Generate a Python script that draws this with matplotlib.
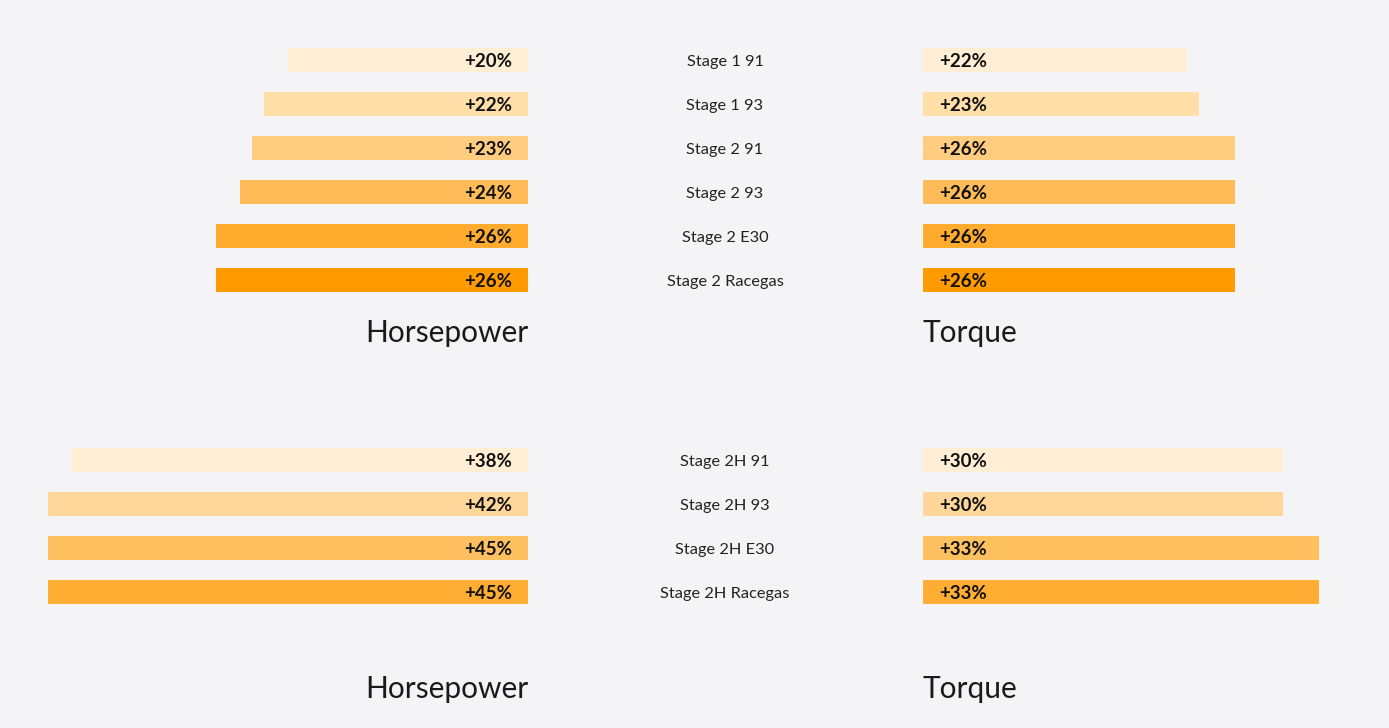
import matplotlib
matplotlib.use("Agg")
import matplotlib.pyplot as plt

W, H = 1389, 728
BG = "#F4F4F6"

# data
stages1 = ["Stage 1 91", "Stage 1 93", "Stage 2 91", "Stage 2 93", "Stage 2 E30", "Stage 2 Racegas"]
hp1 = [20, 22, 23, 24, 26, 26]
tq1 = [22, 23, 26, 26, 26, 26]

stages2 = ["Stage 2H 91", "Stage 2H 93", "Stage 2H E30", "Stage 2H Racegas"]
hp2 = [38, 42, 45, 45]
tq2 = [30, 30, 33, 33]

colors1 = ["#FFEDD4", "#FFDEA8", "#FFCC80", "#FFBB57", "#FFAB2E", "#FF9B00"]
colors2 = ["#FFEDD4", "#FFD699", "#FFC060", "#FFAD33"]

plt.rcParams["font.family"] = ["Lato", "DejaVu Sans"]
fig = plt.figure(figsize=(W / 100, H / 100), dpi=100, facecolor=BG)

PX = 12.0  # pixels per percent
ROW = 44.0
BAR_H = 24.0


def add_ax(x0, x1, y0, y1):
    ax = fig.add_axes([x0 / W, 1 - y1 / H, (x1 - x0) / W, (y1 - y0) / H])
    ax.set_facecolor("none")
    ax.axis("off")
    return ax


def group(stages, hp, tq, colors, top):
    n = len(stages)
    y0, y1 = top, top + n * ROW
    axl = add_ax(48, 528, y0, y1)
    axl.set_xlim((528 - 48) / PX, 0)
    axl.set_ylim(n - 0.5, -0.5)
    axr = add_ax(923, W, y0, y1)
    axr.set_xlim(0, (W - 923) / PX)
    axr.set_ylim(n - 0.5, -0.5)
    h = BAR_H / ROW
    for i in range(n):
        axl.barh(i, hp[i], height=h, color=colors[i], lw=0)
        axl.text(16 / PX, i + 0.04, f"+{hp[i]}%", ha="right", va="center",
                 fontsize=13.5, color="#111111", fontweight="bold")
        axr.barh(i, tq[i], height=h, color=colors[i], lw=0)
        axr.text(16 / PX, i + 0.04, f"+{tq[i]}%", ha="left", va="center",
                 fontsize=13.5, color="#111111", fontweight="bold")
        fig.text(725 / W, 1 - (top + ROW * (i + 0.5) + 2) / H, stages[i],
                 ha="center", va="center", fontsize=11.8, color="#222222")


group(stages1, hp1, tq1, colors1, 38)
group(stages2, hp2, tq2, colors2, 438)

for yc in (333, 689):
    fig.text(528 / W, 1 - yc / H, "Horsepower", ha="right", va="center",
             fontsize=21.5, color="#1a1a1a")
    fig.text(923 / W, 1 - yc / H, "Torque", ha="left", va="center",
             fontsize=21.5, color="#1a1a1a")

fig.savefig("out.png", dpi=100, facecolor=BG)
